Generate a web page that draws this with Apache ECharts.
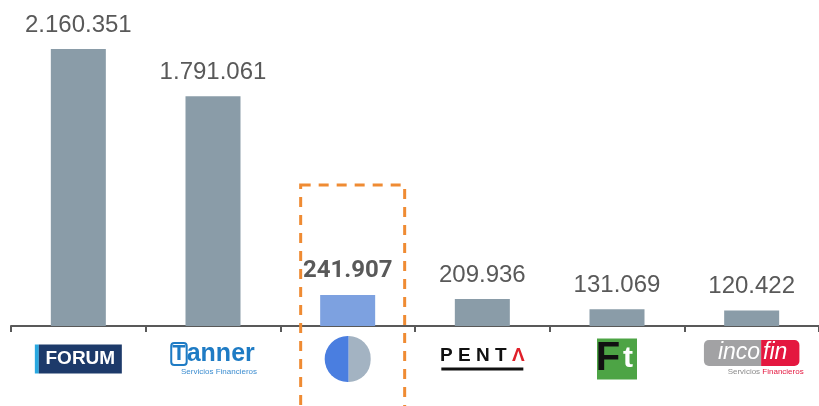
<!DOCTYPE html>
<html>
<head>
<meta charset="utf-8">
<script src="https://cdn.jsdelivr.net/npm/echarts@6/dist/echarts.min.js"></script>
<style>
html, body { margin: 0; padding: 0; background: #fff; }
#main { width: 819px; height: 406px; }
</style>
</head>
<body>
<div id="main"></div>
<script>
var categories = ['FORUM', 'Tanner', 'Eurocapital', 'PENTA', 'Factotal', 'Incofin'];
var values = [2160351, 1791061, 241907, 209936, 131069, 120422];
var highlight = 'Eurocapital';

var myChart = echarts.init(document.getElementById('main'));

function fmt(v) {
    return String(v).replace(/\B(?=(\d{3})+(?!\d))/g, '.');
}

// logos drawn as rich text
var logos = {
    'FORUM': '{fb| }{fo|FORUM}',
    'Tanner': '{tb|T}{ta|anner}\n{ts|Servicios Financieros}',
    'Eurocapital': '{cl| }{cr| }',
    'PENTA': '{pt|P E N T }{pa|Λ}\n{pu| }',
    'Factotal': '{gF|F}{gt|t}',
    'Incofin': '{ig|inco}{ir|fin}\n{is|Servicios }{isr|Financieros}'
};

var barData = values.map(function(v, i) {
    if (categories[i] === highlight) {
        return {
            value: v,
            itemStyle: { color: '#7DA1E0' },
            label: { fontFamily: 'Roboto', fontWeight: 'bold', fontSize: 24, color: '#595959' }
        };
    }
    return v;
});

var option = {
    animation: false,
    grid: { left: 11, top: 0, width: 811, bottom: 80 },
    xAxis: {
        type: 'category',
        data: categories,
        axisLine: { lineStyle: { color: '#595959', width: 2 } },
        axisTick: { show: true, interval: 0, length: 6, lineStyle: { color: '#595959', width: 2 } },
        axisLabel: {
            interval: 0,
            hideOverlap: false,
            margin: 33,
            verticalAlign: 'middle',
            formatter: function(name) { return logos[name]; },
            rich: {
                fb: { backgroundColor: '#2AA8E0', width: 4, height: 29 },
                fo: { backgroundColor: '#1D3A6A', color: '#fff', fontFamily: 'Liberation Sans', fontWeight: 'bold', fontSize: 19, width: 83, height: 29, align: 'center' },
                tb: { color: '#1E7BC4', fontFamily: 'Liberation Sans', fontWeight: 'bold', fontSize: 22, borderColor: '#1E7BC4', borderWidth: 2, borderRadius: 3, padding: [0, 1, 0, 1], lineHeight: 26 },
                ta: { color: '#1E7BC4', fontFamily: 'Liberation Sans', fontWeight: 'bold', fontSize: 25, lineHeight: 26 },
                ts: { color: '#3C8DD0', fontFamily: 'Liberation Sans', fontSize: 8, lineHeight: 10, padding: [0, 0, 0, 12] },
                cl: { backgroundColor: '#4A7EE0', width: 24, height: 46, borderRadius: [23, 0, 0, 23] },
                cr: { backgroundColor: '#A3B3C2', width: 22, height: 46, borderRadius: [0, 23, 23, 0] },
                pt: { color: '#111', fontFamily: 'Liberation Sans', fontWeight: 'bold', fontSize: 19, lineHeight: 20 },
                pa: { color: '#E0202A', fontFamily: 'Liberation Sans', fontWeight: 'bold', fontSize: 19, lineHeight: 20 },
                pu: { backgroundColor: '#111', width: 82, height: 3, lineHeight: 6 },
                gF: { backgroundColor: '#4DA445', color: '#111', fontFamily: 'Liberation Sans', fontWeight: 'bold', fontSize: 40, width: 22, height: 41, align: 'right' },
                gt: { backgroundColor: '#4DA445', color: '#fff', fontFamily: 'Liberation Sans', fontWeight: 'bold', fontSize: 30, width: 18, height: 41, align: 'left', verticalAlign: 'bottom' },
                ig: { backgroundColor: '#A2A2A4', color: '#fff', fontFamily: 'Liberation Sans', fontStyle: 'italic', fontSize: 23, height: 26, borderRadius: [5, 0, 0, 5], padding: [0, 1, 0, 14] },
                ir: { backgroundColor: '#E4173F', color: '#fff', fontFamily: 'Liberation Sans', fontStyle: 'italic', fontSize: 23, height: 26, borderRadius: [0, 5, 5, 0], padding: [0, 12, 0, 2] },
                is: { color: '#8C8C8C', fontFamily: 'Liberation Sans', fontSize: 8, lineHeight: 12, padding: [0, 0, 0, 28] },
                isr: { color: '#E4173F', fontFamily: 'Liberation Sans', fontSize: 8, lineHeight: 12 }
            }
        }
    },
    yAxis: {
        type: 'value',
        show: false,
        min: 0,
        max: 2542500
    },
    series: [{
        type: 'bar',
        barWidth: 55,
        data: barData,
        itemStyle: { color: '#8A9CA8' },
        label: {
            show: true,
            position: 'top',
            distance: 12,
            fontFamily: 'Liberation Sans',
            fontSize: 24,
            color: '#595959',
            formatter: function(p) { return fmt(p.value); }
        }
    }]
};

myChart.setOption(option);

// dashed box around the highlighted company
var cx = myChart.convertToPixel({ xAxisIndex: 0 }, highlight);
myChart.setOption({
    graphic: [{
        type: 'rect',
        z: 10,
        shape: { x: cx - 47, y: 185, width: 104, height: 240 },
        style: { fill: 'none', stroke: '#EF8B33', lineWidth: 3, lineDash: [10, 8] }
    }]
});

window.onresize = function() {
    myChart.resize();
};
</script>
</body>
</html>
